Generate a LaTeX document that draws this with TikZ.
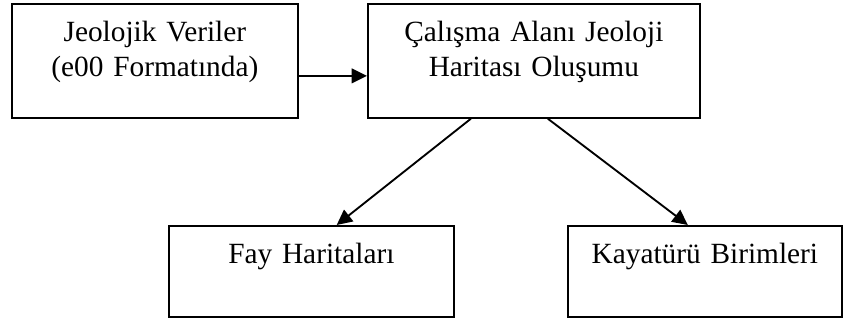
\documentclass[tikz,border=0pt]{standalone}
\usepackage{fontspec}
\setmainfont{Liberation Serif}
\usetikzlibrary{arrows.meta}

\begin{document}
\begin{tikzpicture}[x=0.75pt, y=-0.75pt,
    kutu/.style={draw, line width=1.3pt, anchor=north west, inner sep=0pt,
        align=center, font=\fontsize{22}{26.25}\selectfont, text height=28.5pt},
    ok/.style={-{Triangle[length=11.5pt, width=11pt]}, line width=1.4pt}]

    \useasboundingbox (0,0) rectangle (843,320);

    % Input data
    \node[kutu, text width=214.5pt, text depth=57pt] (veri) at (11,3)
         {Jeolojik Veriler\\(e00 Formatında)};

    % Geology map of the study area
    \node[kutu, text width=249pt, text depth=57pt] (harita) at (367,3)
         {Çalışma Alanı Jeoloji\\Haritası Oluşumu};

    % Outputs
    \node[kutu, text width=213.75pt, text depth=39.75pt] (fay) at (168,225)
         {Fay Haritaları};
    \node[kutu, text width=205.5pt, text depth=39.75pt] (kaya) at (567,225)
         {Kayatürü Birimleri};

    % Connectors
    \draw[ok] ([yshift=-11.25pt]veri.east) -- ([yshift=-11.25pt]harita.west);
    \draw[ok] ([xshift=-47.25pt]harita.south) -- ([xshift=19pt]fay.north);
    \draw[ok] ([xshift=10.5pt]harita.south) -- ([xshift=-12.75pt]kaya.north);

\end{tikzpicture}
\end{document}
